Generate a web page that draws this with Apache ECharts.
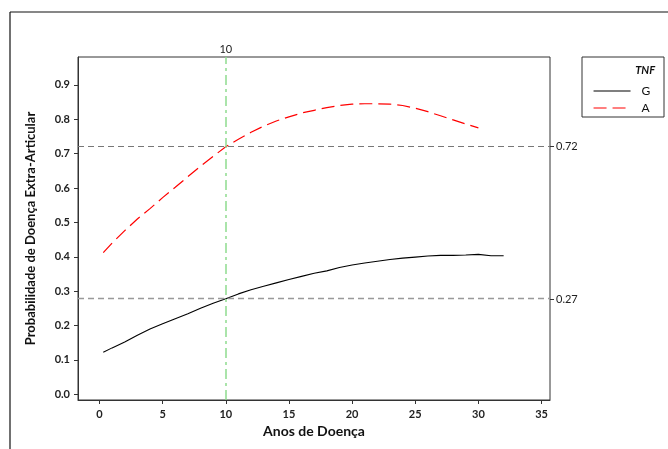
<!DOCTYPE html>
<html lang="pt">
  <head>
    <meta charset="UTF-8" />
    <title>Probabilidade de Doença Extra-Articular</title>
    <style>
      html, body { margin: 0; padding: 0; background: #fff; }
      #chart { width: 668px; height: 449px; }
    </style>
  </head>
  <body>
    <div id="chart"></div>
    <script src="https://cdn.jsdelivr.net/npm/echarts@6/dist/echarts.min.js"></script>
    <script>
      // dados
      var anosG = [0.3, 1, 2, 3, 4, 5, 6, 7, 8, 9, 10, 11, 12, 13, 14, 15, 16, 17, 18, 19, 20, 21, 22, 23, 24, 25, 26, 27, 28, 29, 30, 31, 32];
      var probG = [0.122, 0.135, 0.152, 0.172, 0.19, 0.205, 0.22, 0.234, 0.25, 0.265, 0.278, 0.292, 0.304, 0.314, 0.324, 0.334, 0.343, 0.352, 0.359, 0.369, 0.376, 0.382, 0.387, 0.392, 0.396, 0.399, 0.402, 0.404, 0.404, 0.405, 0.407, 0.403, 0.403];
      var anosA = [0.3, 1, 2, 3, 4, 5, 6, 7, 8, 9, 10, 11, 12, 13, 14, 15, 16, 17, 18, 19, 20, 21, 22, 23, 24, 25, 26, 27, 28, 29, 30];
      var probA = [0.412, 0.44, 0.476, 0.51, 0.54, 0.572, 0.602, 0.633, 0.663, 0.692, 0.72, 0.742, 0.762, 0.78, 0.795, 0.807, 0.818, 0.826, 0.834, 0.84, 0.844, 0.845, 0.845, 0.844, 0.84, 0.832, 0.822, 0.81, 0.798, 0.786, 0.775];
      var xTicks = [0, 5, 10, 15, 20, 25, 30, 35];
      var yTicks = [0, 0.1, 0.2, 0.3, 0.4, 0.5, 0.6, 0.7, 0.8, 0.9];
      var refY = [0.72, 0.277];
      var refYLabels = ["0.72", "0.27"];
      var refX = 10;

      function pares(xs, ys) {
        var res = [];
        for (var i = 0; i < xs.length; i++) res.push([xs[i], ys[i]]);
        return res;
      }

      var fonte = "Lato, 'Open Sans', sans-serif";
      var myChart = echarts.init(document.getElementById("chart"));

      var option = {
        animation: false,
        grid: {
          left: 78, top: 57, width: 472, height: 343,
          show: true, borderColor: "#333", borderWidth: 1
        },
        xAxis: [
          {
            type: "value", min: -1.7, max: 35.67,
            name: "Anos de Doença", nameLocation: "middle", nameGap: 21,
            nameTextStyle: { fontFamily: fonte, fontWeight: "bold", fontSize: 14, color: "#111", verticalAlign: "top" },
            axisLine: { show: true, onZero: false, lineStyle: { color: "#333" } },
            axisTick: { show: true, customValues: xTicks, length: 4, lineStyle: { color: "#333" } },
            axisLabel: { customValues: xTicks, margin: 9, fontFamily: fonte, fontWeight: "bold", fontSize: 11, color: "#222" },
            splitLine: { show: false }
          },
          {
            type: "value", position: "top", min: -1.7, max: 35.67,
            axisLine: { show: false },
            axisTick: { show: false },
            axisLabel: { customValues: [refX], margin: 2, fontFamily: fonte, fontSize: 11, color: "#222" },
            splitLine: { show: false }
          }
        ],
        yAxis: [
          {
            type: "value", min: -0.0166, max: 0.981,
            name: "Probabilidade de Doença Extra-Articular", nameLocation: "middle", nameGap: 41,
            nameTextStyle: { fontFamily: fonte, fontWeight: "bold", fontSize: 13, color: "#111" },
            axisLine: { show: true, onZero: false, lineStyle: { color: "#333" } },
            axisTick: { show: true, customValues: yTicks, length: 4, lineStyle: { color: "#333" } },
            axisLabel: {
              customValues: yTicks, margin: 8, fontFamily: fonte, fontWeight: "bold", fontSize: 11, color: "#222",
              formatter: function (v) { return v.toFixed(1); }
            },
            splitLine: { show: false }
          },
          {
            type: "value", position: "right", min: -0.0166, max: 0.981,
            axisLine: { show: false, onZero: false },
            axisTick: { show: true, customValues: refY, length: 4, lineStyle: { color: "#333" } },
            axisLabel: {
              customValues: refY, margin: 6, fontFamily: fonte, fontSize: 11, color: "#222",
              formatter: function (v) { return refYLabels[refY.indexOf(v)]; }
            },
            splitLine: { show: false }
          }
        ],
        legend: {
          orient: "vertical", left: 588, top: 80,
          itemWidth: 37, itemHeight: 14, itemGap: 5,
          itemStyle: { opacity: 0 },
          lineStyle: { width: 1.1 },
          textStyle: { fontFamily: fonte, fontSize: 12, color: "#111", padding: [0, 0, 0, 6] },
          data: ["G", "A"]
        },
        graphic: [
          { type: "line", shape: { x1: 10, y1: 12, x2: 668, y2: 12 }, style: { stroke: "#111", lineWidth: 1.2 } },
          { type: "line", shape: { x1: 10, y1: 12, x2: 10, y2: 449 }, style: { stroke: "#111", lineWidth: 1.2 } },
          { type: "rect", shape: { x: 582, y: 57, width: 82, height: 60 }, style: { fill: "none", stroke: "#333", lineWidth: 1 } },
          { type: "text", x: 655, y: 70, style: { text: "TNF", fontFamily: fonte, fontWeight: "bold", fontStyle: "italic", fontSize: 11, fill: "#111", align: "right", verticalAlign: "middle" } }
        ],
        series: [
          {
            name: "G", type: "line", data: pares(anosG, probG),
            showSymbol: false, symbol: "none", smooth: false,
            lineStyle: { color: "#000", width: 1.1 }, itemStyle: { color: "#000" },
            markLine: {
              silent: true, symbol: "none", label: { show: false },
              data: [
                { yAxis: refY[0], lineStyle: { color: "#777", type: [6, 4], width: 1 } },
                { yAxis: refY[1], lineStyle: { color: "#999", type: [6, 4], width: 1.3 } },
                { xAxis: refX, lineStyle: { color: "#8fdc8f", type: [10, 4, 3, 4], width: 1.5 } }
              ]
            }
          },
          {
            name: "A", type: "line", data: pares(anosA, probA),
            showSymbol: false, symbol: "none", smooth: false,
            lineStyle: { color: "#ff0000", width: 1.2, type: [13, 6] }, itemStyle: { color: "#ff0000" }
          }
        ]
      };

      myChart.setOption(option);
    </script>
  </body>
</html>
